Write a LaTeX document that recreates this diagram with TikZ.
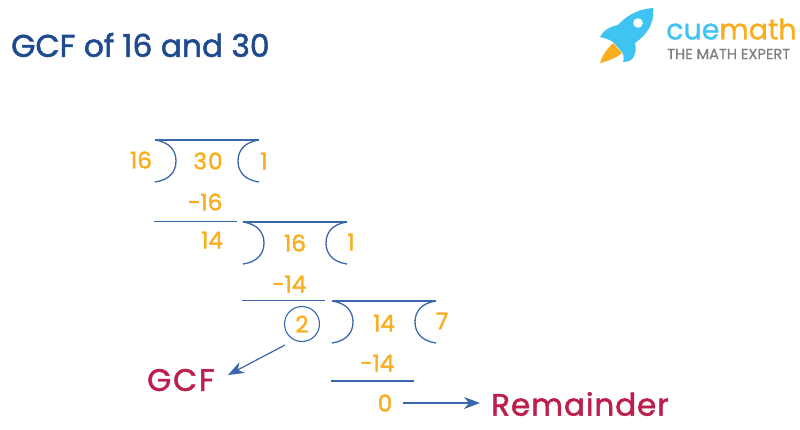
\documentclass[tikz,border=0pt]{standalone}
\usepackage{fontspec}
\setmainfont{Poppins}
\usetikzlibrary{arrows.meta}
\definecolor{navy}{HTML}{1F4A8E}
\definecolor{rule}{HTML}{3A66AE}
\definecolor{amber}{HTML}{FBAE1D}
\definecolor{crimson}{HTML}{BC1F4E}
\definecolor{sky}{HTML}{3FC3F2}
\definecolor{greytag}{HTML}{7D7D7D}
\tikzset{
  x=1pt,y=-1pt,
  num/.style={inner sep=0pt,text=amber,font=\fontsize{23}{24}\selectfont\addfontfeatures{FakeBold=1.6}},
  big/.style={inner sep=0pt,text=crimson,font=\fontsize{31}{34}\selectfont\addfontfeatures{FakeBold=1.6,LetterSpace=3}},
  rulebar/.style={draw=rule,line width=1.3pt},
  arrowline/.style={draw=rule,line width=1.2pt,-{Stealth[length=16pt,width=12pt,inset=5pt]}},
  pics/bracket/.style={code={
    \draw[rulebar] (0,0) -- (104,0);
    \draw[rulebar] (0,0) .. controls (14,2) and (21,10) .. (21,21) .. controls (21,32) and (14,40) .. (0,42);
    \draw[rulebar] (104,0) .. controls (90,2) and (83,10) .. (83,21) .. controls (83,32) and (90,40) .. (104,42);
  }}
}
\begin{document}
\begin{tikzpicture}
\useasboundingbox (0,0) rectangle (800,429);
\fill[white] (0,0) rectangle (800,429);
\node[anchor=west,inner sep=0pt,text=navy,font=\fontsize{31.3}{33}\selectfont\addfontfeatures{FakeBold=1.6}] (title) at (11,45) {GCF of 16 and 30};
% logo
\fill[sky] (653,8) .. controls (642,9) and (630,12) .. (618,25) .. controls (612,26) and (604,29) .. (600,37)
  .. controls (604,38) and (609,39) .. (613,42) -- (622,52) .. controls (624,55) and (624,59) .. (623,62)
  .. controls (628,62) and (633,60) .. (634,56) .. controls (636,52) and (636,47) .. (635,43)
  .. controls (645,36) and (655,25) .. (653,8) -- cycle;
\fill[amber] (613,43) .. controls (607,49) and (602,56) .. (600,63) .. controls (608,61) and (616,58) .. (622,53) -- cycle;
\fill[white] (638,23) circle (4.8);
\node[inner sep=0pt,anchor=west,font=\fontsize{28.5}{30}\selectfont\addfontfeatures{FakeBold=1}] (brand) at (666,29) {\textcolor{sky}{cue}\textcolor{amber}{math}};
\node[inner sep=0pt,anchor=west,text=greytag,font=\fontsize{14.6}{16}\selectfont\addfontfeatures{FakeBold=0.5}] (tag) at (667,54) {THE MATH EXPERT};
% division frames
\pic at (155,140) {bracket};
\pic at (243,222) {bracket};
\pic at (332,301) {bracket};
\coordinate (a1) at (154,221.5); \coordinate (a2) at (237,221.5);
\coordinate (b1) at (242,300.5); \coordinate (b2) at (325,300.5);
\coordinate (c1) at (331,381); \coordinate (c2) at (414,381);
\draw[rulebar] (a1) -- (a2);
\draw[rulebar] (b1) -- (b2);
\draw[rulebar] (c1) -- (c2);
% numbers
\node[num] (n16) at (141,160) {16};
\node[num,font=\fontsize{23}{24}\selectfont\addfontfeatures{FakeBold=1.6,LetterSpace=5}] (n30) at (208,161) {30};
\node[num] (q1) at (264,161) {1};
\node[num] (m16) at (205,202) {−16};
\node[num] (n14) at (212,240) {14};
\node[num] (d16) at (295,243) {16};
\node[num] (q2) at (351,242) {1};
\node[num] (m14) at (289,284) {−14};
\node[num,circle,draw=rule,line width=1.1pt,minimum size=35pt,inner sep=0pt] (two) at (302,324) {2};
\node[num] (d14) at (384,323) {14};
\node[num] (q3) at (442,321) {7};
\node[num] (m14b) at (377,363) {−14};
\node[num] (zero) at (385,403) {0};
\node[big,anchor=west,font=\fontsize{31}{34}\selectfont\addfontfeatures{FakeBold=1.6,LetterSpace=6}] (gcf) at (147,380) {GCF};
\node[big,anchor=west] (rem) at (491,404) {Remainder};
\coordinate (s1) at (285,345); \coordinate (e1) at (228,375);
\coordinate (s2) at (403,403); \coordinate (e2) at (480,403);
\draw[arrowline] (s1) -- (e1);
\draw[arrowline] (s2) -- (e2);
\end{tikzpicture}
\end{document}
